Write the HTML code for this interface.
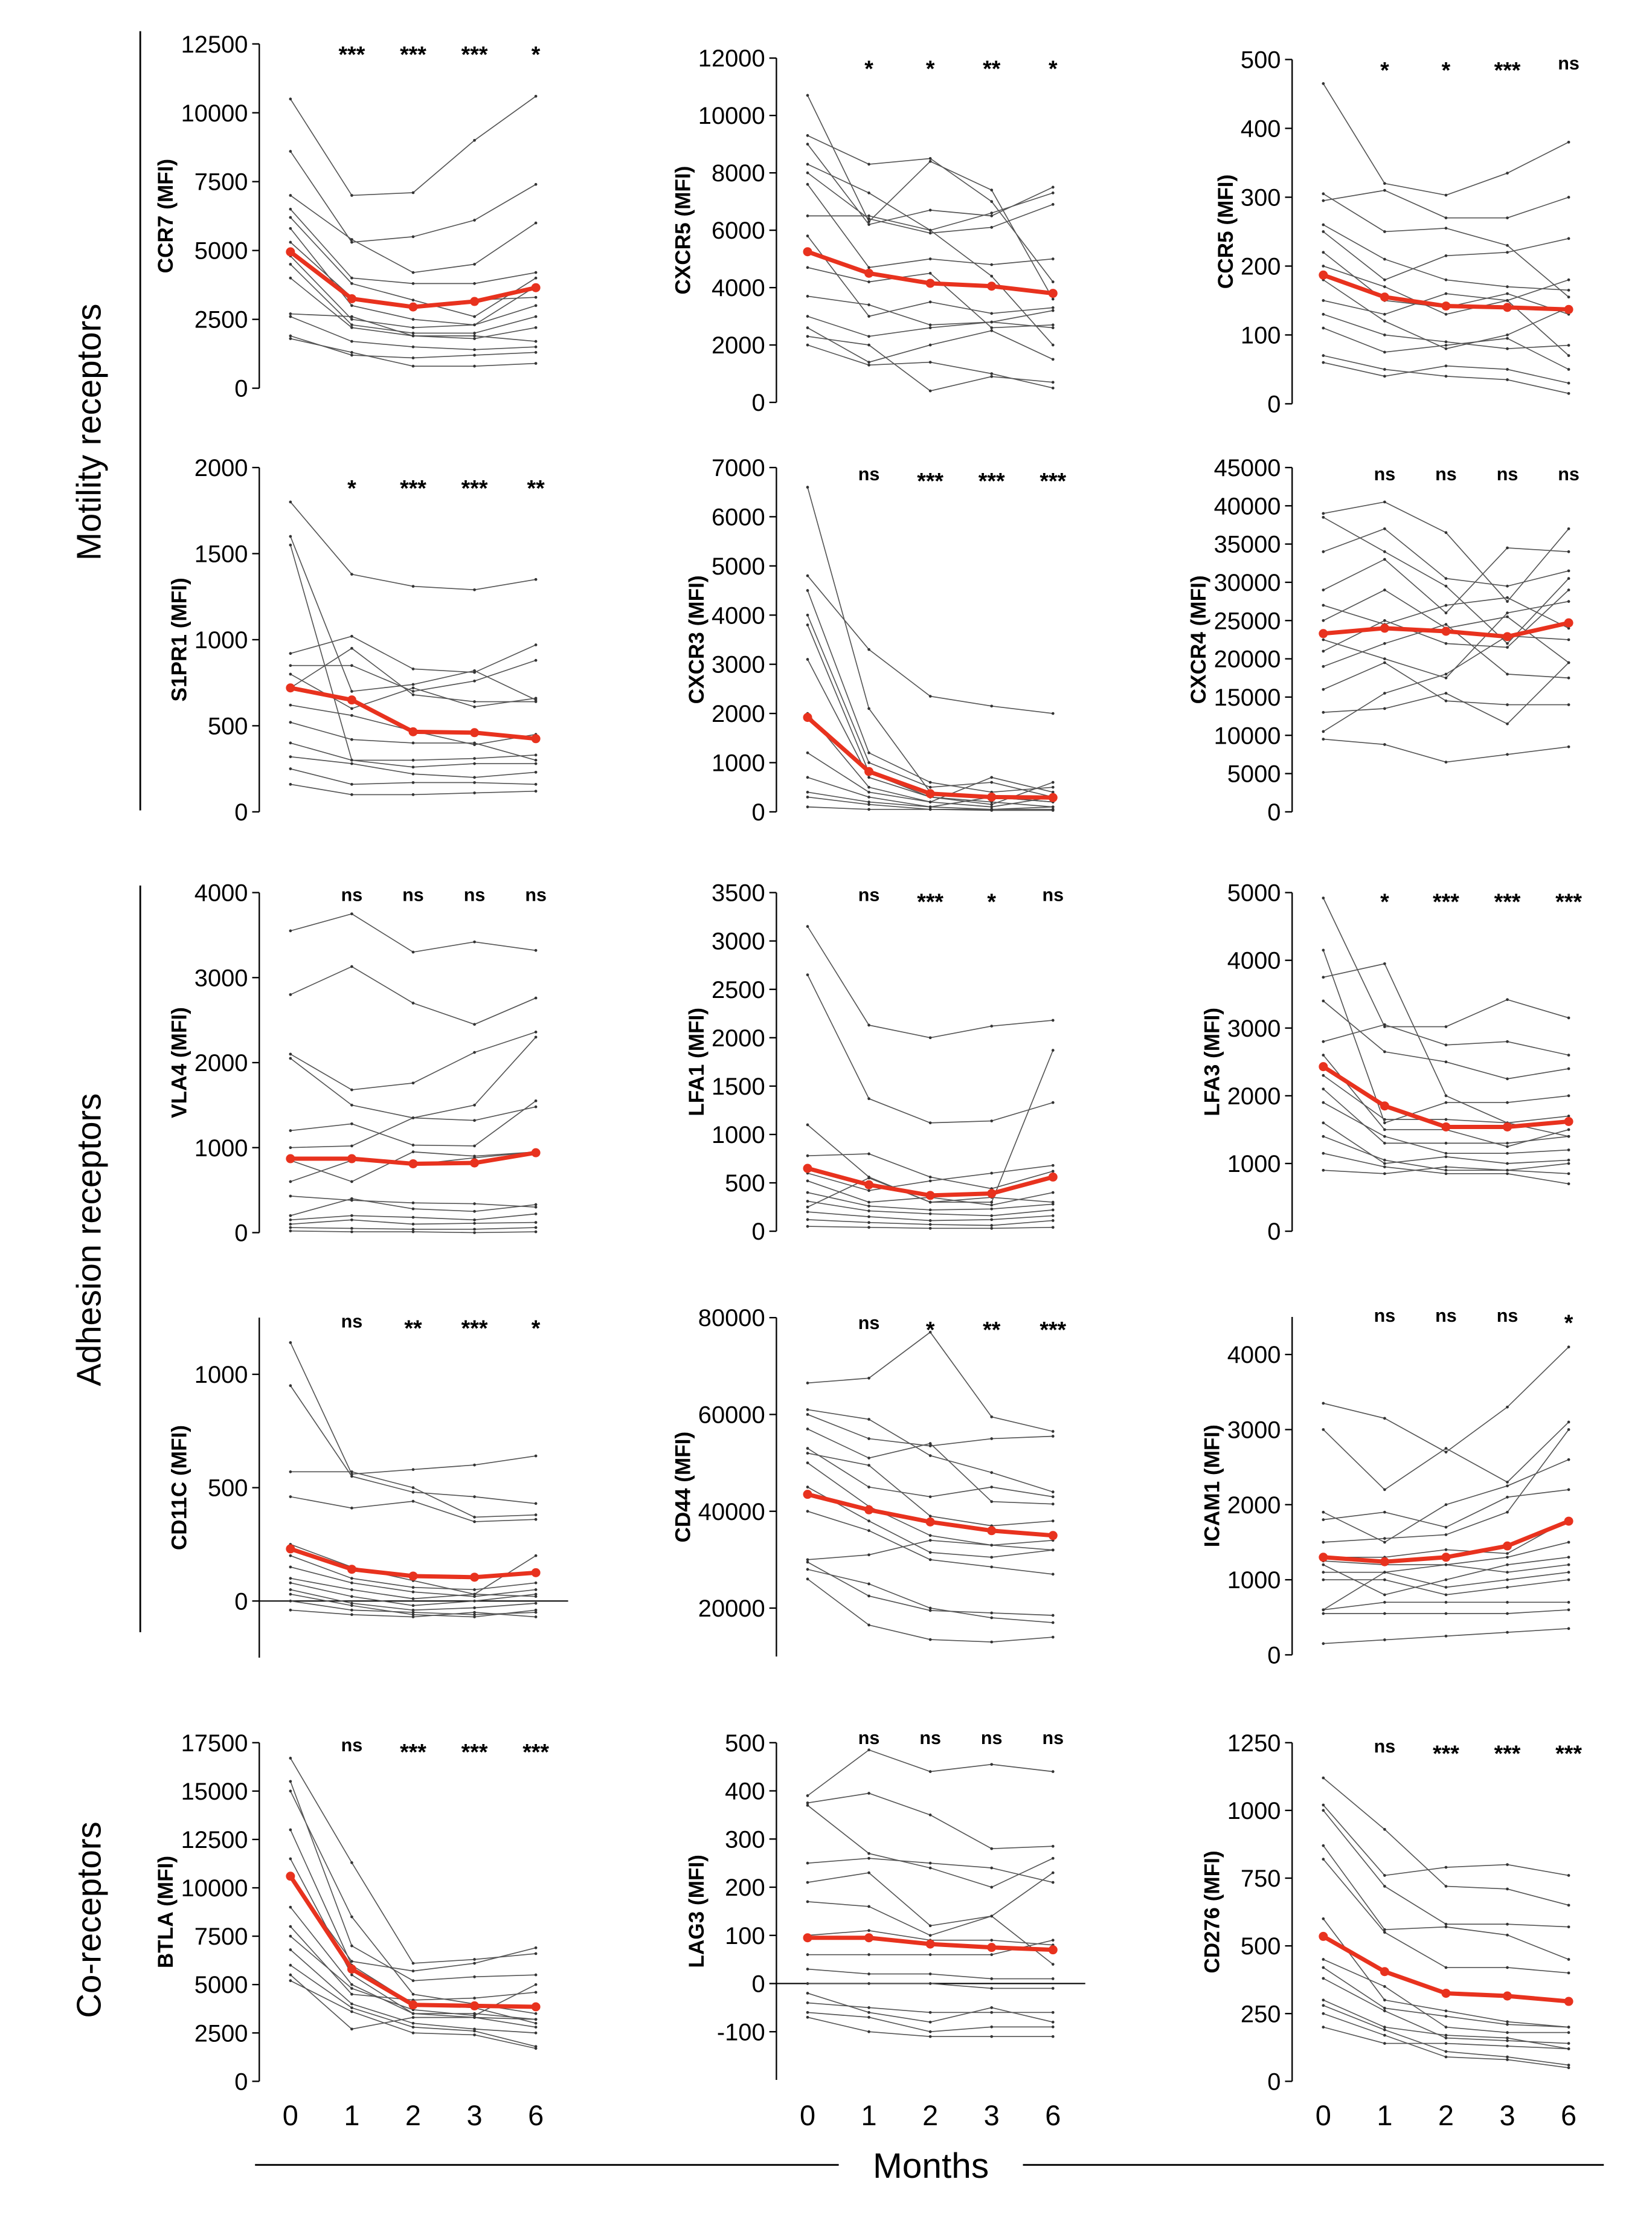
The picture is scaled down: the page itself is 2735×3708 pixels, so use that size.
<!DOCTYPE html>
<html><head><meta charset="utf-8"><style>
html,body{margin:0;padding:0;background:#fff}
svg{display:block}
text{font-family:"Liberation Sans",Arial,sans-serif}
</style></head><body>
<svg id="fig" xmlns="http://www.w3.org/2000/svg" width="2735" height="3708" viewBox="0 0 1166 1581" preserveAspectRatio="none">
<g>
<line x1="99" y1="22" x2="99" y2="572" stroke="#000" stroke-width="1.2"/>
<text x="0" y="0" transform="translate(71,305) rotate(-90)" text-anchor="middle" font-size="24">Motility receptors</text>
<line x1="99" y1="625" x2="99" y2="1152" stroke="#000" stroke-width="1.2"/>
<text x="0" y="0" transform="translate(71,875) rotate(-90)" text-anchor="middle" font-size="24">Adhesion receptors</text>
<text x="0" y="0" transform="translate(71,1355) rotate(-90)" text-anchor="middle" font-size="24">Co-receptors</text>
</g>
<g>
<line x1="180" y1="1528" x2="592" y2="1528" stroke="#000" stroke-width="1.2"/>
<line x1="722" y1="1528" x2="1132" y2="1528" stroke="#000" stroke-width="1.2"/>
<text x="657" y="1537" text-anchor="middle" font-size="25">Months</text>
</g>
<g id="panels"></g>
</svg>
<script>
const months = ["0","1","2","3","6"];

const ccr7Mean=[4950,3250,2950,3150,3650];
const ccr7Lines=[[10500,7000,7100,9000,10600],[8600,5300,5500,6100,7400],[7000,5400,4200,4500,6000],[6500,4000,3800,3800,4200],[6200,3800,3200,2600,4000],[5800,3000,2500,2300,3700],[5300,3300,3000,3200,3300],[4800,2500,2200,2300,3000],[4500,2300,2000,2000,2600],[4000,2200,1900,1800,2200],[2700,2600,1900,1900,1700],[2600,1700,1500,1400,1500],[1900,1200,1100,1200,1300],[1800,1300,800,800,900]];
const ccr7Sig=["***","***","***","*"];

const cxcr5Mean=[5250,4500,4150,4050,3800];
const cxcr5Lines=[[10700,6300,8400,7400,3600],[9300,8300,8500,7000,4200],[9000,6200,6700,6500,7500],[8300,7300,6000,6600,7300],[8000,6400,5900,6100,6900],[7600,4700,5000,4800,5000],[6500,6500,6000,4400,2000],[5800,3000,3500,3100,3300],[4700,4200,4500,2600,2700],[3700,3400,2700,2800,2600],[3000,2300,2600,2800,3200],[2600,1400,2000,2500,1500],[2300,2000,400,900,700],[2000,1300,1400,1000,500]];
const cxcr5Sig=["*","*","**","*"];

const ccr5Mean=[187,155,142,140,137];
const ccr5Lines=[[465,320,303,335,380],[305,250,255,230,155],[295,310,270,270,300],[260,210,180,170,165],[250,180,215,220,240],[220,150,140,160,130],[200,170,130,150,180],[180,120,80,100,140],[150,130,160,150,70],[130,100,90,80,85],[110,75,85,95,50],[70,50,40,35,15],[60,40,55,50,30]];
const ccr5Sig=["*","*","***","ns"];

const s1pr1Mean=[720,650,465,460,425];
const s1pr1Lines=[[1800,1380,1310,1290,1350],[1600,700,740,820,650],[1550,300,260,280,280],[920,1020,830,810,970],[850,850,700,760,880],[800,600,720,610,660],[720,950,680,640,640],[620,560,470,390,450],[520,420,400,400,300],[400,300,300,310,330],[320,280,220,200,230],[250,160,170,170,160],[160,100,100,110,120]];
const s1pr1Sig=["*","***","***","**"];

const cxcr3Mean=[1920,820,370,300,290];
const cxcr3Lines=[[6600,2100,400,300,200],[4800,3300,2350,2150,2000],[4500,1200,600,400,500],[4000,1000,500,600,300],[3800,800,300,200,100],[3100,700,300,150,600],[2000,500,200,700,400],[1200,400,200,100,300],[700,300,100,300,200],[400,200,100,50,100],[300,150,50,50,50],[100,50,50,30,30]];
const cxcr3Sig=["ns","***","***","***"];

const cxcr4Mean=[23300,24000,23600,22900,24700];
const cxcr4Lines=[[39000,40500,36500,27500,37000],[38500,34000,29500,22000,30500],[34000,37000,30500,29500,31500],[29000,33000,26000,34500,34000],[27000,24500,27000,28000,24000],[25000,29000,24000,25500,19500],[22500,20000,17500,26000,27500],[21000,25000,22000,21500,29000],[19000,22000,24500,18000,17500],[16000,19500,14500,14000,14000],[13000,13500,15500,11500,19500],[10500,15500,18000,23000,22500],[9500,8800,6500,7500,8500]];
const cxcr4Sig=["ns","ns","ns","ns"];

const vla4Mean=[870,870,810,820,940];
const vla4Lines=[[3550,3750,3300,3420,3320],[2800,3130,2700,2450,2760],[2100,1680,1760,2120,2360],[2050,1500,1350,1500,2300],[1200,1280,1030,1020,1550],[1000,1020,1350,1320,1480],[850,600,950,900,950],[600,850,800,880,950],[430,380,350,340,300],[200,400,280,250,330],[150,200,180,150,220],[100,150,100,110,120],[60,50,40,40,60],[20,10,10,0,10]];
const vla4Sig=["ns","ns","ns","ns"];

const lfa1Mean=[650,480,370,390,560];
const lfa1Lines=[[3150,2130,2000,2120,2180],[2650,1370,1120,1140,1330],[1100,560,300,300,1870],[780,800,560,440,620],[600,420,520,600,680],[520,300,350,270,400],[400,260,220,230,280],[310,210,180,160,220],[250,550,300,350,300],[200,150,110,120,160],[120,90,70,60,110],[50,40,30,30,40]];
const lfa1Sig=["ns","***","*","ns"];

const lfa3Mean=[2430,1850,1540,1540,1620];
const lfa3Lines=[[4920,3020,3020,3420,3150],[4150,1600,1900,1900,2000],[3750,3950,2000,1600,1700],[3400,2650,2500,2250,2400],[2800,3050,2750,2800,2600],[2600,1500,1500,1250,1500],[2300,1650,1650,1600,1400],[2100,1300,1300,1300,1400],[1900,1400,1150,1150,1200],[1600,1000,1100,1000,1050],[1400,1050,900,900,850],[1150,950,850,850,700],[900,850,950,900,1000]];
const lfa3Sig=["*","***","***","***"];

const cd11cMean=[230,140,110,105,125];
const cd11cLines=[[1140,560,580,600,640],[950,550,480,460,430],[570,570,500,370,380],[460,410,440,350,360],[250,150,90,30,200],[200,100,60,50,80],[150,80,40,20,50],[100,50,10,30,20],[80,20,-20,0,30],[50,-10,-40,-30,-10],[30,-20,-60,-70,-40],[0,-40,-50,-60,-50],[-40,-60,-70,-50,-70]];
const cd11cSig=["ns","**","***","*"];

const cd44Mean=[43500,40300,37800,36000,35000];
const cd44Lines=[[66500,67500,77000,59500,56500],[61000,59000,51500,48000,44000],[60000,55000,53500,55000,55500],[57000,51000,54000,42000,41500],[53000,45000,43000,45000,43000],[52000,49500,39000,37000,38000],[50000,41000,35000,33000,34000],[45000,38000,31500,30500,32000],[40000,36000,30000,28500,27000],[30000,31000,34000,33000,32000],[29500,22500,19500,19000,18500],[28000,25000,20000,18000,17000],[26000,16500,13500,13000,14000]];
const cd44Sig=["ns","*","**","***"];

const icam1Mean=[1300,1240,1300,1450,1780];
const icam1Lines=[[3350,3150,2700,3300,4100],[3000,2200,2750,2300,3100],[1900,1500,2000,2250,2600],[1800,1900,1700,2100,2200],[1500,1550,1600,1900,3000],[1300,1300,1400,1350,1800],[1250,1200,1200,1300,1500],[1200,800,1000,1200,1300],[1100,1100,1200,1100,1200],[1000,1000,800,900,1000],[600,1100,900,1000,1100],[600,700,700,700,700],[550,550,550,550,600],[150,200,250,300,350]];
const icam1Sig=["ns","ns","ns","*"];

const btlaMean=[10600,5800,3950,3900,3850];
const btlaLines=[[16700,11300,6100,6300,6600],[15500,7000,5200,5400,5500],[15000,8500,4500,4000,3500],[13000,6000,4000,3800,3000],[11500,5500,3500,3300,2800],[10500,6200,5700,6100,6900],[9000,5000,3500,3500,3200],[8000,4500,4200,4300,4600],[7500,4800,3700,3400,5000],[6800,4000,3000,2700,2500],[6000,3800,2800,2600,1800],[5500,2700,3300,3300,3200],[5200,3600,2500,2400,1700]];
const btlaSig=["ns","***","***","***"];

const lag3Mean=[95,95,82,75,70];
const lag3Lines=[[390,485,440,455,440],[375,395,350,280,285],[370,270,240,200,260],[250,260,250,240,210],[210,230,120,140,230],[170,160,100,140,40],[100,110,90,90,80],[60,60,60,60,90],[30,20,20,10,10],[0,0,0,-10,-10],[-20,-60,-80,-50,-80],[-40,-50,-60,-60,-60],[-60,-70,-100,-90,-90],[-70,-100,-110,-110,-110]];
const lag3Sig=["ns","ns","ns","ns"];

const cd276Mean=[535,405,325,315,295];
const cd276Lines=[[1120,930,720,710,650],[1020,760,790,800,760],[1000,720,580,580,570],[870,560,570,540,450],[820,550,420,420,400],[600,300,260,220,200],[450,350,200,180,180],[420,270,240,210,200],[380,260,160,150,140],[300,200,170,160,120],[280,190,110,90,60],[250,170,90,80,50],[200,140,140,130,120]];
const cd276Sig=["ns","***","***","***"];

const ccr7Ticks=[0,2500,5000,7500,10000,12500];
const cxcr5Ticks=[0,2000,4000,6000,8000,10000,12000];
const ccr5Ticks=[0,100,200,300,400,500];
const s1pr1Ticks=[0,500,1000,1500,2000];
const cxcr3Ticks=[0,1000,2000,3000,4000,5000,6000,7000];
const cxcr4Ticks=[0,5000,10000,15000,20000,25000,30000,35000,40000,45000];
const vla4Ticks=[0,1000,2000,3000,4000];
const lfa1Ticks=[0,500,1000,1500,2000,2500,3000,3500];
const lfa3Ticks=[0,1000,2000,3000,4000,5000];
const cd11cTicks=[0,500,1000];
const cd44Ticks=[20000,40000,60000,80000];
const icam1Ticks=[0,1000,2000,3000,4000];
const btlaTicks=[0,2500,5000,7500,10000,12500,15000,17500];
const lag3Ticks=[-100,0,100,200,300,400,500];
const cd276Ticks=[0,250,500,750,1000,1250];

const colAxis=[183,548,912];
const panels=[
 {id:"ccr7",title:"CCR7 (MFI)",col:0,mean:ccr7Mean,lines:ccr7Lines,sig:ccr7Sig,ticks:ccr7Ticks,v0:0,p0:274,v1:12500,p1:31,aMin:0,aMax:12500,sigY:38},
 {id:"cxcr5",title:"CXCR5 (MFI)",col:1,mean:cxcr5Mean,lines:cxcr5Lines,sig:cxcr5Sig,ticks:cxcr5Ticks,v0:0,p0:284,v1:12000,p1:41,aMin:0,aMax:12000,sigY:48},
 {id:"ccr5",title:"CCR5 (MFI)",col:2,mean:ccr5Mean,lines:ccr5Lines,sig:ccr5Sig,ticks:ccr5Ticks,v0:0,p0:285,v1:500,p1:42,aMin:0,aMax:500,sigY:49},
 {id:"s1pr1",title:"S1PR1 (MFI)",col:0,mean:s1pr1Mean,lines:s1pr1Lines,sig:s1pr1Sig,ticks:s1pr1Ticks,v0:0,p0:573,v1:2000,p1:330,aMin:0,aMax:2000,sigY:344},
 {id:"cxcr3",title:"CXCR3 (MFI)",col:1,mean:cxcr3Mean,lines:cxcr3Lines,sig:cxcr3Sig,ticks:cxcr3Ticks,v0:0,p0:573,v1:7000,p1:330,aMin:0,aMax:7000,sigY:339},
 {id:"cxcr4",title:"CXCR4 (MFI)",col:2,mean:cxcr4Mean,lines:cxcr4Lines,sig:cxcr4Sig,ticks:cxcr4Ticks,v0:0,p0:573,v1:45000,p1:330,aMin:0,aMax:45000,sigY:339},
 {id:"vla4",title:"VLA4 (MFI)",col:0,mean:vla4Mean,lines:vla4Lines,sig:vla4Sig,ticks:vla4Ticks,v0:0,p0:870,v1:4000,p1:630,aMin:0,aMax:4000,sigY:636},
 {id:"lfa1",title:"LFA1 (MFI)",col:1,mean:lfa1Mean,lines:lfa1Lines,sig:lfa1Sig,ticks:lfa1Ticks,v0:0,p0:869,v1:3500,p1:630,aMin:0,aMax:3500,sigY:636},
 {id:"lfa3",title:"LFA3 (MFI)",col:2,mean:lfa3Mean,lines:lfa3Lines,sig:lfa3Sig,ticks:lfa3Ticks,v0:0,p0:869,v1:5000,p1:630,aMin:0,aMax:5000,sigY:636},
 {id:"cd11c",title:"CD11C (MFI)",col:0,mean:cd11cMean,lines:cd11cLines,sig:cd11cSig,ticks:cd11cTicks,v0:0,p0:1130,v1:1000,p1:970,aMin:-250,aMax:1250,sigY:937,zero:true},
 {id:"cd44",title:"CD44 (MFI)",col:1,mean:cd44Mean,lines:cd44Lines,sig:cd44Sig,ticks:cd44Ticks,v0:20000,p0:1135,v1:80000,p1:930,aMin:10000,aMax:80000,sigY:938},
 {id:"icam1",title:"ICAM1 (MFI)",col:2,mean:icam1Mean,lines:icam1Lines,sig:icam1Sig,ticks:icam1Ticks,v0:0,p0:1168,v1:4000,p1:956,aMin:0,aMax:4500,sigY:933},
 {id:"btla",title:"BTLA (MFI)",col:0,mean:btlaMean,lines:btlaLines,sig:btlaSig,ticks:btlaTicks,v0:0,p0:1469,v1:17500,p1:1230,aMin:0,aMax:17500,sigY:1236,xl:true},
 {id:"lag3",title:"LAG3 (MFI)",col:1,mean:lag3Mean,lines:lag3Lines,sig:lag3Sig,ticks:lag3Ticks,v0:-100,p0:1434,v1:500,p1:1230,aMin:-200,aMax:500,sigY:1231,zero:true,xl:true},
 {id:"cd276",title:"CD276 (MFI)",col:2,mean:cd276Mean,lines:cd276Lines,sig:cd276Sig,ticks:cd276Ticks,v0:0,p0:1469,v1:1250,p1:1230,aMin:0,aMax:1250,sigY:1237,xl:true}
];
const NS="http://www.w3.org/2000/svg";
function mk(tag,attrs,parent){const e=document.createElementNS(NS,tag);for(const k in attrs)e.setAttribute(k,attrs[k]);parent.appendChild(e);return e;}
const root=document.getElementById("panels");
panels.forEach(p=>{
 const ax=colAxis[p.col];
 const y=v=>p.p0+(v-p.v0)*(p.p1-p.p0)/(p.v1-p.v0);
 const x=i=>ax+22+i*43.3;
 const g=mk("g",{},root);
 
 
 const axl=mk("line",{x1:ax,x2:ax,y1:y(p.aMax),y2:y(p.aMin),stroke:"#000","stroke-width":1},g);
 
 
 let maxLen=0;
 p.ticks.forEach(t=>{
  const ty=y(t);
  const tm=mk("line",{x1:ax-5,x2:ax,y1:ty,y2:ty,stroke:"#000","stroke-width":1},g);
  
  
  const tl=mk("text",{x:ax-8,y:ty+6,"text-anchor":"end","font-size":17},g);
  tl.textContent=String(t);
  
  
  maxLen=Math.max(maxLen,String(t).length);
 });
 const tx=ax-10-maxLen*9.6-3;
 const ti=mk("text",{x:0,y:0,transform:`translate(${tx},${(y(p.aMax)+y(p.aMin))/2}) rotate(-90)`,"text-anchor":"middle","font-size":15,"font-weight":"bold"},g);
 ti.textContent=p.title;
 
 
 if(p.zero){
  const zl=mk("line",{x1:ax,x2:ax+218,y1:y(0),y2:y(0),stroke:"#000","stroke-width":0.9},g);
  
  
 }
 p.lines.forEach(ln=>{
  const pl=mk("polyline",{points:ln.map((v,i)=>x(i)+","+y(v)).join(" "),fill:"none",stroke:"#555","stroke-width":0.7},g);
  
  
  ln.forEach((v,i)=>{const c=mk("circle",{cx:x(i),cy:y(v),r:1,fill:"#333"},g);
   
   });
 });
 const ml=mk("polyline",{points:p.mean.map((v,i)=>x(i)+","+y(v)).join(" "),fill:"none",stroke:"#e8321e","stroke-width":3},g);
 
 
 p.mean.forEach((v,i)=>{const c=mk("circle",{cx:x(i),cy:y(v),r:3.2,fill:"#e8321e"},g);
  
  });
 p.sig.forEach((s,i)=>{
  const st=mk("text",{x:x(i+1),y:p.sigY+(s==="ns"?0:6),"text-anchor":"middle","font-size":s==="ns"?13:16,"font-weight":"bold"},g);
  st.textContent=s;
  
  
 });
 if(p.xl){
  months.forEach((m,i)=>{
   const xt=mk("text",{x:x(i),y:1500,"text-anchor":"middle","font-size":20},g);
   xt.textContent=m;
   
   
  });
 }
});
</script>
</body></html>
